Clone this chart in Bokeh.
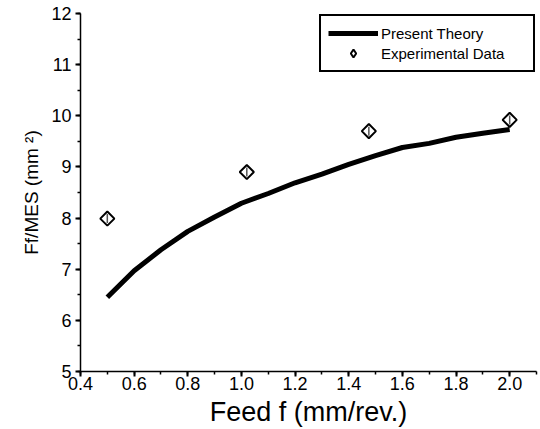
import math
from bokeh.plotting import figure
from bokeh.models import ColumnDataSource, Legend, LegendItem, FixedTicker, CustomJSTickFormatter
from bokeh.embed import file_html
from bokeh.resources import INLINE

theory_x = [0.5, 0.6, 0.7, 0.8, 0.9, 1.0, 1.1, 1.2, 1.3, 1.4, 1.5, 1.6, 1.7, 1.8, 1.9, 2.0]
theory_y = [6.45, 6.97, 7.38, 7.74, 8.02, 8.29, 8.48, 8.69, 8.86, 9.05, 9.22, 9.38, 9.46, 9.58, 9.66, 9.73]
exp_x = [0.5, 1.02, 1.475, 2.0]
exp_y = [7.99, 8.9, 9.70, 9.92]
x_ticks = [0.4, 0.6, 0.8, 1.0, 1.2, 1.4, 1.6, 1.8, 2.0]
y_ticks = [5, 6, 7, 8, 9, 10, 11, 12]

p = figure(width=540, height=429, output_backend="svg", toolbar_location=None,
           x_range=(0.4, 2.1), y_range=(5, 12),
           min_border_left=80, min_border_right=4, min_border_top=13, min_border_bottom=56)
p.outline_line_color = None
p.grid.visible = False
p.background_fill_color = "white"

theory = p.line(theory_x, theory_y, line_color="black", line_width=5)
src = ColumnDataSource(dict(x=exp_x, y=exp_y))
p.scatter("x", "y", source=src, marker="square", size=10, angle=math.pi/4,
          fill_color="white", line_color="black", line_width=2)
p.scatter("x", "y", source=src, marker="dash", size=9, angle=math.pi/2,
          line_color="#555555", line_width=1.5)
# legend-only glyph, placed outside the visible ranges
exp_legend = p.scatter(x=[-10], y=[-10], marker="diamond", size=14,
                       fill_color="white", line_color="black", line_width=2)

FONT = "Liberation Sans"
p.xaxis.ticker = FixedTicker(ticks=x_ticks, minor_ticks=[0.4 + 0.1*i for i in range(18)])
p.yaxis.ticker = FixedTicker(ticks=y_ticks, minor_ticks=[5 + 0.5*i for i in range(15)])
p.xaxis.formatter = CustomJSTickFormatter(code="return tick.toFixed(1);")
for ax in (p.xaxis[0], p.yaxis[0]):
    ax.axis_line_width = 1.5
    ax.axis_line_color = "black"
    ax.major_tick_line_color = "black"
    ax.minor_tick_line_color = "black"
    ax.major_tick_line_width = 2
    ax.minor_tick_line_width = 1.5
    ax.major_tick_out = 5
    ax.major_tick_in = 0
    ax.minor_tick_out = 3
    ax.minor_tick_in = 0
    ax.major_label_text_font = FONT
    ax.major_label_text_font_size = "18px"
    ax.major_label_text_color = "black"
    ax.axis_label_text_font = FONT
    ax.axis_label_text_font_style = "normal"
    ax.axis_label_text_color = "black"

p.xaxis.axis_label = "Feed f (mm/rev.)"
p.xaxis.axis_label_text_font_size = "27px"
p.xaxis.axis_label_standoff = 4
p.xaxis.major_label_standoff = 0
p.yaxis.axis_label = "Ff/MES (mm ²)"
p.yaxis.axis_label_text_font_size = "19px"
p.yaxis.axis_label_standoff = 6
p.yaxis.major_label_standoff = 4

legend = Legend(items=[LegendItem(label="Present Theory", renderers=[theory]),
                       LegendItem(label="Experimental Data", renderers=[exp_legend])],
                location="top_right")
legend.border_line_color = "black"
legend.border_line_alpha = 1.0
legend.border_line_width = 2
legend.label_text_font = FONT
legend.label_text_font_size = "15px"
legend.label_text_color = "black"
legend.glyph_width = 50
legend.glyph_height = 20
legend.label_height = 20
legend.label_width = 145
legend.spacing = 0
legend.padding = 7
legend.margin = 1
legend.label_standoff = 3
p.add_layout(legend)

open("out.html", "w").write(file_html(p, INLINE))
